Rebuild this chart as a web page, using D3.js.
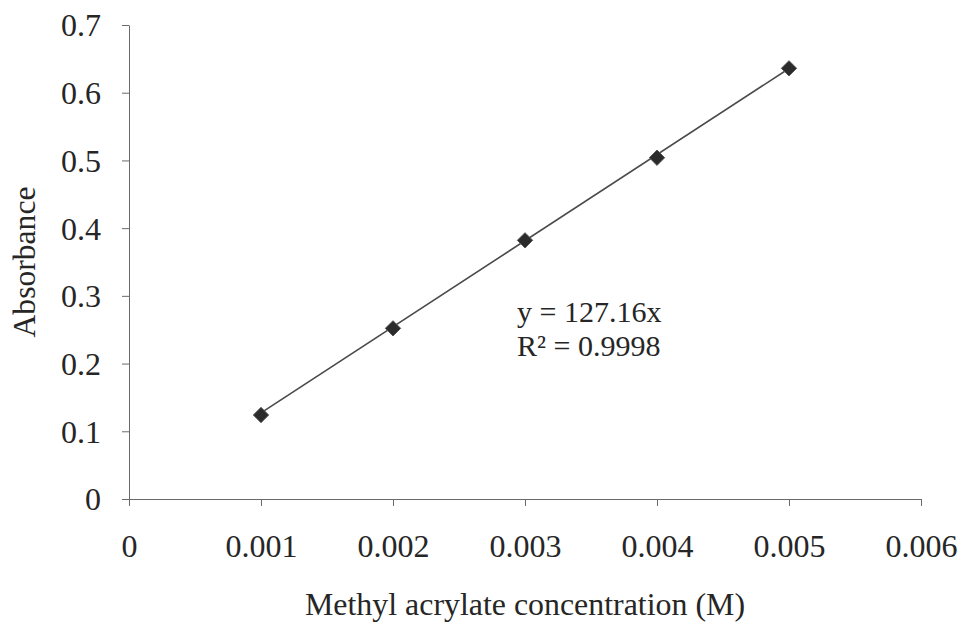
<!DOCTYPE html>
<html>
<head>
<meta charset="utf-8">
<script src="https://cdn.jsdelivr.net/npm/d3@7/dist/d3.min.js"></script>
<style>
  body { margin: 0; background: #fff; }
  svg { display: block; }
  .axis path, .axis line { stroke: #6a6a6a; }
</style>
</head>
<body>
<svg id="chart" width="964" height="622"></svg>
<script>
// calibration data
var concentrations = [0.001, 0.002, 0.003, 0.004, 0.005];
var absorbances = [0.124, 0.252, 0.382, 0.504, 0.636];
var xTicks = [0, 0.001, 0.002, 0.003, 0.004, 0.005, 0.006];
var yTicks = [0, 0.1, 0.2, 0.3, 0.4, 0.5, 0.6, 0.7];
var slope = 127.16;
var equationLines = ["y = 127.16x", "R\u00b2 = 0.9998"];

var svg = d3.select("svg"),
    serif = "'Liberation Serif'",
    ink = "#262626";

var x = d3.scaleLinear().domain([0, 0.006]).range([129, 921]);
var y = d3.scaleLinear().domain([0, 0.7]).range([499, 25]);

var xAxis = svg.append("g")
    .attr("class", "axis")
    .attr("transform", "translate(0," + y(0) + ")")
    .call(d3.axisBottom(x).tickValues(xTicks).tickSize(7).tickSizeOuter(0)
        .tickFormat(function(d) { return d === 0 ? "0" : d3.format(".3f")(d); }));
xAxis.selectAll("text")
    .style("font-family", serif)
    .style("font-size", "32px")
    .style("fill", ink)
    .attr("dy", 0)
    .attr("y", 58);

var yAxis = svg.append("g")
    .attr("class", "axis")
    .attr("transform", "translate(" + x(0) + ",0)")
    .call(d3.axisLeft(y).tickValues(yTicks).tickSize(7).tickSizeOuter(0)
        .tickFormat(function(d) { return d === 0 ? "0" : d3.format(".1f")(d); }));
yAxis.selectAll("text")
    .style("font-family", serif)
    .style("font-size", "32px")
    .style("fill", ink)
    .attr("x", -28)
    .attr("dy", "0.34em");

// trendline through the origin, drawn across the measured range
var ext = d3.extent(concentrations);
svg.append("line")
    .attr("x1", x(ext[0])).attr("y1", y(slope * ext[0]))
    .attr("x2", x(ext[1])).attr("y2", y(slope * ext[1]))
    .attr("stroke", "#4a4a4a")
    .attr("stroke-width", 1.6);

svg.append("g")
    .selectAll("path")
    .data(concentrations)
    .enter().append("path")
    .attr("d", d3.symbol().type(d3.symbolDiamond2).size(150))
    .attr("transform", function(d, i) { return "translate(" + x(d) + "," + y(absorbances[i]) + ")"; })
    .attr("fill", "#2b2b2b")
    .attr("stroke", "#555")
    .attr("stroke-width", 1);

svg.append("g")
    .selectAll("text")
    .data(equationLines)
    .enter().append("text")
    .attr("x", 517)
    .attr("y", function(d, i) { return 322 + i * 34; })
    .style("font-family", serif)
    .style("font-size", "30px")
    .style("fill", ink)
    .text(function(d) { return d; });

svg.append("text")
    .attr("x", 525)
    .attr("y", 615)
    .attr("text-anchor", "middle")
    .attr("textLength", 440)
    .attr("lengthAdjust", "spacingAndGlyphs")
    .style("font-family", serif)
    .style("font-size", "32px")
    .style("fill", ink)
    .text("Methyl acrylate concentration (M)");

svg.append("text")
    .attr("transform", "translate(35,262) rotate(-90)")
    .attr("text-anchor", "middle")
    .attr("textLength", 151)
    .attr("lengthAdjust", "spacingAndGlyphs")
    .style("font-family", serif)
    .style("font-size", "31px")
    .style("fill", ink)
    .text("Absorbance");
</script>
</body>
</html>
